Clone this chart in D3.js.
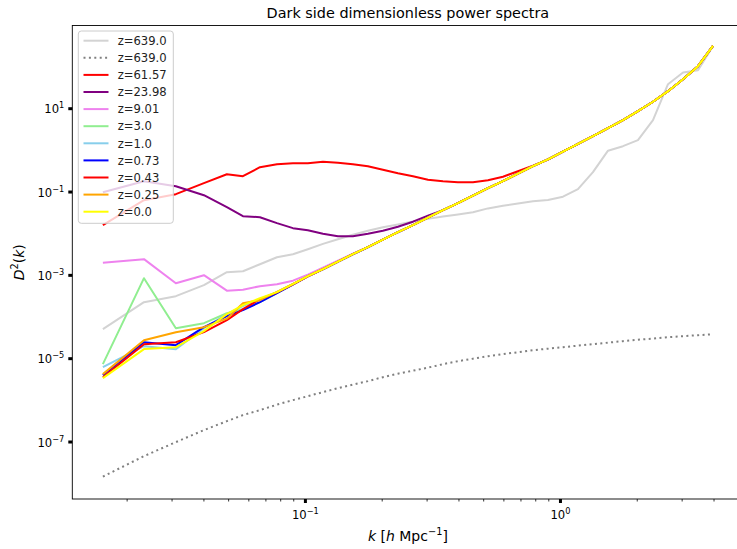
<!DOCTYPE html>
<html><head><meta charset="utf-8">
<script src="https://cdn.jsdelivr.net/npm/d3@7"></script>
<style>body{margin:0;background:#fff} svg{display:block;font-family:"DejaVu Sans",sans-serif}</style>
</head><body><svg id="c" width="737" height="549"></svg>
<script>
// wavenumbers k [h/Mpc]
const kVals = [0.01614, 0.02339, 0.03119, 0.04018, 0.04943, 0.05715, 0.06664, 0.07770, 0.08975, 0.1027, 0.1177, 0.1347, 0.1542, 0.1766, 0.2022, 0.2316, 0.2652, 0.3037, 0.3477, 0.3981, 0.4559, 0.5220, 0.5977, 0.6844, 0.7837, 0.8973, 1.0275, 1.1765, 1.347, 1.543, 1.766, 2.022, 2.316, 2.652, 3.037, 3.477, 3.981];

const d_z639 = [4.97e-5, 2.21e-4, 3.08e-4, 5.65e-4, 1.16e-3, 1.22e-3, 1.80e-3, 2.65e-3, 3.13e-3, 4.13e-3, 5.54e-3, 7.18e-3, 9.21e-3, 0.01143, 0.01393, 0.01626, 0.01900, 0.02205, 0.02505, 0.02827, 0.03192, 0.03936, 0.04571, 0.05164, 0.05861, 0.06266, 0.0752, 0.1138, 0.2911, 0.955, 1.225, 1.707, 5.15, 37.7, 71.9, 81.6, 307];
const d_z639lin = [1.435e-8, 4.46e-8, 9.66e-8, 1.875e-7, 3.08e-7, 4.30e-7, 5.66e-7, 7.67e-7, 9.84e-7, 1.227e-6, 1.531e-6, 1.91e-6, 2.32e-6, 2.81e-6, 3.50e-6, 4.25e-6, 5.01e-6, 5.92e-6, 7.18e-6, 8.48e-6, 9.73e-6, 1.117e-5, 1.248e-5, 1.393e-5, 1.556e-5, 1.69e-5, 1.84e-5, 2.00e-5, 2.17e-5, 2.36e-5, 2.56e-5, 2.78e-5, 2.94e-5, 3.19e-5, 3.37e-5, 3.56e-5, 3.77e-5];
const d_z6157 = [0.01556, 0.0619, 0.0863, 0.1585, 0.2606, 0.2333, 0.3837, 0.4529, 0.4786, 0.4786, 0.520, 0.492, 0.4529, 0.4055, 0.3342, 0.2754, 0.2333, 0.1923, 0.1770, 0.1675, 0.1675, 0.1871, 0.2270, 0.3076, 0.4169, 0.581, 0.909, 1.40, 2.15, 3.31, 5.15, 8.47, 14.3, 25.6, 49.7, 102, 313];
const d_z2398 = [0.0964, 0.177, 0.134, 0.0817, 0.0421, 0.0256, 0.0242, 0.0174, 0.0132, 0.0118, 9.73e-3, 8.48e-3, 8.48e-3, 9.73e-3, 0.01148, 0.01432, 0.01888, 0.0263, 0.0357, 0.0525, 0.0794, 0.1202, 0.177, 0.268, 0.406, 0.590, 0.909, 1.40, 2.15, 3.31, 5.15, 8.47, 14.3, 25.6, 49.7, 102, 313];
const d_z901 = [1.96e-3, 2.38e-3, 6.31e-4, 9.82e-4, 4.17e-4, 4.41e-4, 5.35e-4, 5.97e-4, 7.24e-4, 1.01e-3, 1.49e-3, 2.19e-3, 3.22e-3, 4.61e-3, 6.98e-3, 0.01057, 0.01556, 0.02355, 0.03565, 0.0525, 0.0794, 0.1202, 0.177, 0.268, 0.406, 0.590, 0.909, 1.40, 2.15, 3.31, 5.15, 8.47, 14.3, 25.6, 49.7, 102, 313];
const d_z30 = [7.18e-6, 8.32e-4, 5.25e-5, 6.92e-5, 1.20e-4, 1.50e-4, 2.21e-4, 3.63e-4, 5.97e-4, 9.29e-4, 1.37e-3, 2.07e-3, 3.13e-3, 4.61e-3, 6.98e-3, 0.01057, 0.01556, 0.02355, 0.03565, 0.0525, 0.0794, 0.1202, 0.177, 0.268, 0.406, 0.590, 0.909, 1.40, 2.15, 3.31, 5.15, 8.47, 14.3, 25.6, 49.7, 102, 313];
const d_z10 = [6.08e-6, 1.94e-5, 1.64e-5, 5.25e-5, 1.14e-4, 1.77e-4, 2.61e-4, 3.84e-4, 5.97e-4, 9.29e-4, 1.37e-3, 2.07e-3, 3.13e-3, 4.61e-3, 6.98e-3, 0.01057, 0.01556, 0.02355, 0.03565, 0.0525, 0.0794, 0.1202, 0.177, 0.268, 0.406, 0.590, 0.909, 1.40, 2.15, 3.31, 5.15, 8.47, 14.3, 25.6, 49.7, 102, 313];
const d_z073 = [3.92e-6, 2.42e-5, 2.05e-5, 5.55e-5, 1.02e-4, 1.42e-4, 2.21e-4, 3.63e-4, 5.85e-4, 9.2e-4, 1.36e-3, 2.06e-3, 3.12e-3, 4.60e-3, 6.97e-3, 0.01055, 0.01554, 0.02352, 0.03562, 0.0525, 0.0794, 0.1202, 0.177, 0.268, 0.406, 0.590, 0.909, 1.40, 2.15, 3.31, 5.15, 8.47, 14.3, 25.6, 49.7, 102, 313];
const d_z043 = [3.50e-6, 2.17e-5, 2.42e-5, 4.21e-5, 8.17e-5, 1.50e-4, 2.61e-4, 3.80e-4, 5.90e-4, 9.25e-4, 1.37e-3, 2.07e-3, 3.13e-3, 4.61e-3, 6.98e-3, 0.01057, 0.01556, 0.02355, 0.03565, 0.0525, 0.0794, 0.1202, 0.177, 0.268, 0.406, 0.590, 0.909, 1.40, 2.15, 3.31, 5.15, 8.47, 14.3, 25.6, 49.7, 102, 313];
const d_z025 = [4.14e-6, 2.70e-5, 4.21e-5, 5.55e-5, 8.87e-5, 2.09e-4, 2.47e-4, 3.90e-4, 6.05e-4, 9.35e-4, 1.38e-3, 2.08e-3, 3.14e-3, 4.62e-3, 6.99e-3, 0.01058, 0.01557, 0.02357, 0.03567, 0.0525, 0.0794, 0.1202, 0.177, 0.268, 0.406, 0.590, 0.909, 1.40, 2.15, 3.31, 5.15, 8.47, 14.3, 25.6, 49.7, 102, 313];
const d_z00 = [3.32e-6, 1.65e-5, 1.84e-5, 4.45e-5, 1.14e-4, 1.87e-4, 2.75e-4, 3.84e-4, 5.97e-4, 9.29e-4, 1.37e-3, 2.07e-3, 3.13e-3, 4.61e-3, 6.98e-3, 0.01057, 0.01556, 0.02355, 0.03565, 0.0525, 0.0794, 0.1202, 0.177, 0.268, 0.406, 0.590, 0.909, 1.40, 2.15, 3.31, 5.15, 8.47, 14.3, 25.6, 49.7, 102, 313];

const seriesLabels = ["z=639.0", "z=639.0", "z=61.57", "z=23.98", "z=9.01", "z=3.0", "z=1.0", "z=0.73", "z=0.43", "z=0.25", "z=0.0"];
const seriesValues = [d_z639, d_z639lin, d_z6157, d_z2398, d_z901, d_z30, d_z10, d_z073, d_z043, d_z025, d_z00];
const seriesColors = ["lightgray", "gray", "red", "purple", "violet", "lightgreen", "skyblue", "blue", "red", "orange", "yellow"];
const seriesDotted = [false, true, false, false, false, false, false, false, false, false, false];

const xMajorTicks = [0.1, 1];
const xMajorExp = ["\u22121", "0"];
const xMinorTicks = [0.02, 0.03, 0.04, 0.05, 0.06, 0.07, 0.08, 0.09, 0.2, 0.3, 0.4, 0.5, 0.6, 0.7, 0.8, 0.9, 2, 3, 4, 5];
const yMajorTicks = [10, 0.1, 1e-3, 1e-5, 1e-7];
const yMajorExp = ["1", "\u22121", "\u22123", "\u22125", "\u22127"];

const titleText = "Dark side dimensionless power spectra";

const svg = d3.select("#c");
const L = 72.3, R = 743.5, T = 25.5, B = 499;
const x = d3.scaleLog().domain([Math.pow(10, -1.912), Math.pow(10, 0.7196)]).range([L, R]);
const y = d3.scaleLog().domain([Math.pow(10, -8.38), Math.pow(10, 2.985)]).range([B, T]);

svg.append("defs").append("clipPath").attr("id", "clip")
  .append("rect").attr("x", L).attr("y", T).attr("width", R - L).attr("height", B - T);

const line = d3.line().x(d => x(d[0])).y(d => y(d[1]));
const g = svg.append("g").attr("clip-path", "url(#clip)");
seriesValues.forEach((vals, i) => {
  g.append("path")
    .attr("d", line(kVals.map((kk, j) => [kk, vals[j]])))
    .attr("fill", "none")
    .attr("stroke", seriesColors[i])
    .attr("stroke-width", 2)
    .attr("stroke-dasharray", seriesDotted[i] ? "2,3.4" : null)
    .attr("stroke-linejoin", "round");
});

// frame
svg.append("rect").attr("x", L).attr("y", T).attr("width", R - L).attr("height", B - T)
  .attr("fill", "none").attr("stroke", "#000").attr("stroke-width", 0.9);

// x axis
const xAxisMinor = d3.axisBottom(x).tickValues(xMinorTicks).tickSize(2.5).tickFormat(() => "");
const gxm = svg.append("g").attr("transform", `translate(0,${B})`).call(xAxisMinor);
gxm.select(".domain").remove();
gxm.selectAll("line").attr("stroke", "#000").attr("stroke-width", 0.8);

const xAxis = d3.axisBottom(x).tickValues(xMajorTicks).tickSize(4).tickFormat(() => "");
const gx = svg.append("g").attr("transform", `translate(0,${B})`).call(xAxis);
gx.select(".domain").remove();
gx.selectAll("line").attr("stroke", "#000").attr("stroke-width", 3);
gx.selectAll(".tick").each(function(d, i) {
  const t = d3.select(this).append("text").attr("y", 20).attr("text-anchor", "middle")
    .attr("fill", "#000").attr("font-size", 11.6).attr("font-family", "DejaVu Sans");
  t.append("tspan").text("10");
  t.append("tspan").attr("dy", -5).attr("font-size", 8.2).text(xMajorExp[i]);
});

// y axis
const yAxis = d3.axisLeft(y).tickValues(yMajorTicks).tickSize(4).tickFormat(() => "");
const gy = svg.append("g").attr("transform", `translate(${L},0)`).call(yAxis);
gy.select(".domain").remove();
gy.selectAll("line").attr("stroke", "#000").attr("stroke-width", 3);
gy.selectAll(".tick").each(function(d, i) {
  const t = d3.select(this).append("text").attr("x", -8).attr("y", 4.5).attr("text-anchor", "end")
    .attr("fill", "#000").attr("font-size", 11.6).attr("font-family", "DejaVu Sans");
  t.append("tspan").text("10");
  t.append("tspan").attr("dy", -5).attr("font-size", 8.2).text(yMajorExp[i]);
});

// title
svg.append("text").attr("x", (L + R) / 2).attr("y", 18).attr("text-anchor", "middle")
  .attr("font-size", 14.4).attr("fill", "#000").text(titleText);

// x label
const xl = svg.append("text").attr("x", (L + R) / 2).attr("y", 541).attr("text-anchor", "middle")
  .attr("font-size", 14).attr("fill", "#000");
xl.append("tspan").attr("font-style", "italic").text("k");
xl.append("tspan").text(" [");
xl.append("tspan").attr("font-style", "italic").text("h");
xl.append("tspan").text(" Mpc");
xl.append("tspan").attr("dy", -6).attr("font-size", 9.8).text("\u22121");
xl.append("tspan").attr("dy", 6).text("]");

// y label
const yl = svg.append("text").attr("transform", `translate(24,${(T + B) / 2}) rotate(-90)`)
  .attr("text-anchor", "middle").attr("font-size", 14).attr("fill", "#000");
yl.append("tspan").attr("font-style", "italic").text("D");
yl.append("tspan").attr("dy", -6).attr("font-size", 9.8).text("2");
yl.append("tspan").attr("dy", 6).text("(");
yl.append("tspan").attr("font-style", "italic").text("k");
yl.append("tspan").text(")");

// legend
const lg = svg.append("g");
lg.append("rect").attr("x", 78.3).attr("y", 31).attr("width", 95).attr("height", 192.3).attr("rx", 3)
  .attr("fill", "#fff").attr("fill-opacity", 0.8).attr("stroke", "#ccc").attr("stroke-width", 1);
seriesLabels.forEach((lab, i) => {
  const yy = 40.7 + i * 17.1;
  lg.append("line").attr("x1", 83.5).attr("x2", 108.5).attr("y1", yy).attr("y2", yy)
    .attr("stroke", seriesColors[i]).attr("stroke-width", 2)
    .attr("stroke-dasharray", seriesDotted[i] ? "2,3.4" : null);
  lg.append("text").attr("x", 117.7).attr("y", yy + 4.2).attr("font-size", 11.6).attr("fill", "#222").text(lab);
});
</script></body></html>
